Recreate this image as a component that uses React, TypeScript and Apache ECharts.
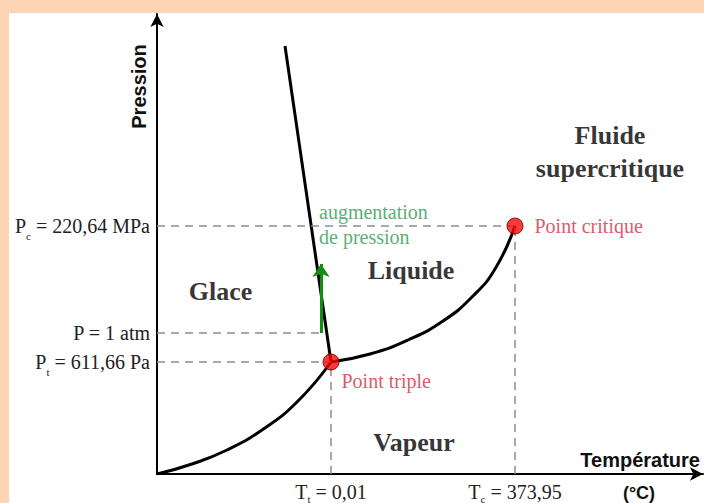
import React, { useEffect, useRef } from 'react';
import * as echarts from 'echarts';

const SERIF = '"Liberation Serif", "Times New Roman", serif';
const SANS = '"Liberation Sans", Arial, sans-serif';

// Schematic phase diagram of water (arbitrary units, origin at the axes' corner)
const sublimationCurve = [[0, 0], [35, 10], [70, 24], [105, 44], [140, 72], [174, 112]];
const vaporisationCurve = [[174, 112], [213, 120], [251, 134], [286, 153], [315, 177], [338, 205], [358, 248]];
const fusionLine = [[174, 112], [128, 428]];

const triplePoint = [174, 112];
const criticalPoint = [358, 248];
const specialPointNames = ['Point triple', 'Point critique'];

// Pressure levels
const pressureValues = [248, 141, 112];
const pressureLabelMain = ['P', 'P = 1 atm', 'P'];
const pressureLabelSub = ['c', '', 't'];
const pressureLabelRest = [' = 220,64 MPa', '', ' = 611,66 Pa'];
const pressureLineEnds = [358, 164, 174];

// Temperature levels
const temperatureValues = [174, 358];
const temperatureLabelSub = ['t', 'c'];
const temperatureLabelRest = [' = 0,01', ' = 373,95'];
const temperatureLineEnds = [112, 248];

// Pressure-increase arrow
const arrowX = 164;
const arrowFrom = 141;
const arrowTo = 210;
const arrowText = 'augmentation\nde pression';
const arrowTextAt = [162, 249.5];

// Phase regions
const regionNames = ['Glace', 'Liquide', 'Vapeur', 'Fluide\nsupercritique'];
const regionPositions = [[63.5, 183], [254, 204], [257, 32], [453, 322.5]];

const xTitle = 'Température';
const xUnit = '(°C)';
const yTitle = 'Pression';

const richP = {
  a: { fontFamily: SERIF, fontSize: 20, color: '#222', lineHeight: 30, verticalAlign: 'middle' },
  s: { fontFamily: SERIF, fontSize: 11, color: '#222', lineHeight: 11, verticalAlign: 'bottom' },
};
const richT = {
  a: { fontFamily: SERIF, fontSize: 20, color: '#222', lineHeight: 24, verticalAlign: 'middle' },
  s: { fontFamily: SERIF, fontSize: 11, color: '#222', lineHeight: 11, verticalAlign: 'bottom' },
};

function richLabel(main: string, sub: string, rest: string) {
  let t = `{a|${main}}`;
  if (sub) t += `{s|${sub}}`;
  if (rest) t += `{a|${rest}}`;
  return t;
}

const curveStyle = { color: '#000', width: 3 };

function buildOption(): any {
  const hLines = pressureValues.map((p, i) => [
    {
      coord: [0, p],
      label: { position: 'start', distance: 7, formatter: richLabel(pressureLabelMain[i], pressureLabelSub[i], pressureLabelRest[i]), rich: richP },
    },
    { coord: [pressureLineEnds[i], p] },
  ]);
  const vLines = temperatureValues.map((t, i) => [
    {
      coord: [t, 0],
      label: { position: 'start', distance: 6, formatter: richLabel('T', temperatureLabelSub[i], temperatureLabelRest[i]), rich: richT },
    },
    { coord: [t, temperatureLineEnds[i]] },
  ]);

  return {
    animation: false,
    backgroundColor: 'transparent',
    grid: { left: 157, top: 14, right: 1, bottom: 29, containLabel: false },
    xAxis: {
      type: 'value', min: 0, max: 546,
      axisLine: { show: true, onZero: false, lineStyle: { color: '#000', width: 2 }, symbol: ['none', 'arrow'], symbolSize: [10, 13] },
      axisTick: { show: false }, axisLabel: { show: false }, splitLine: { show: false },
    },
    yAxis: {
      type: 'value', min: 0, max: 460,
      axisLine: { show: true, onZero: false, lineStyle: { color: '#000', width: 2 }, symbol: ['none', 'arrow'], symbolSize: [10, 13] },
      axisTick: { show: false }, axisLabel: { show: false }, splitLine: { show: false },
    },
    graphic: [
      { type: 'text', x: 700, y: 460, style: { text: xTitle, font: `bold 20px ${SANS}`, fill: '#111', align: 'right', verticalAlign: 'middle' } },
      { type: 'text', x: 639, y: 493, style: { text: xUnit, font: `bold 18px ${SANS}`, fill: '#111', align: 'center', verticalAlign: 'middle' } },
      { type: 'text', x: 139, y: 86.5, rotation: Math.PI / 2, style: { text: yTitle, font: `bold 20px ${SANS}`, fill: '#111', align: 'center', verticalAlign: 'middle' } },
    ],
    series: [
      {
        type: 'line', data: [], silent: true, z: 1,
        markLine: {
          silent: true, symbol: ['none', 'none'], animation: false,
          lineStyle: { type: [8, 6], color: '#8f8f8f', width: 1.5 },
          label: { show: true },
          emphasis: { disabled: true },
          data: [...hLines, ...vLines],
        },
      },
      { type: 'line', name: 'sublimation', data: sublimationCurve, smooth: 0.5, symbol: 'none', lineStyle: curveStyle, silent: true, z: 3 },
      { type: 'line', name: 'vaporisation', data: vaporisationCurve, smooth: 0.5, symbol: 'none', lineStyle: curveStyle, silent: true, z: 3 },
      { type: 'line', name: 'fusion', data: fusionLine, symbol: 'none', lineStyle: curveStyle, silent: true, z: 3 },
      {
        type: 'line', data: [], silent: true, z: 2,
        markLine: {
          silent: true, symbol: ['none', 'arrow'], symbolSize: 13,
          lineStyle: { type: 'solid', color: '#138d13', width: 3 },
          itemStyle: { color: '#138d13' },
          label: { show: false },
          data: [[{ coord: [arrowX, arrowFrom] }, { coord: [arrowX, arrowTo] }]],
        },
      },
      {
        type: 'scatter', data: [arrowTextAt], symbolSize: 0, silent: true, z: 4,
        label: {
          show: true, position: 'inside', formatter: arrowText, align: 'left', verticalAlign: 'middle',
          fontFamily: SERIF, fontSize: 20, lineHeight: 25, color: '#2a9a4c',
        },
      },
      {
        type: 'scatter', symbolSize: 0, silent: true, z: 4,
        data: regionNames.map((n, i) => ({ name: n, value: regionPositions[i] })),
        label: {
          show: true, position: 'inside', formatter: '{b}', align: 'center', verticalAlign: 'middle',
          fontFamily: SERIF, fontWeight: 'bold', fontSize: 26, lineHeight: 33, color: '#000',
        },
      },
      {
        type: 'scatter', symbolSize: 16, silent: true, z: 6,
        itemStyle: { color: '#f50a0a', borderColor: '#6e0000', borderWidth: 1 },
        data: [
          { name: specialPointNames[0], value: triplePoint, label: { position: 'right', distance: 2, offset: [0, 19] } },
          { name: specialPointNames[1], value: criticalPoint, label: { position: 'right', distance: 11 } },
        ],
        label: { show: true, formatter: '{b}', fontFamily: SERIF, fontSize: 20, color: '#d82a40' },
      },
    ],
  };
}

export default function App() {
  const ref = useRef<HTMLDivElement>(null);
  useEffect(() => {
    const chart = echarts.init(ref.current!, null, { renderer: 'svg' });
    chart.setOption(buildOption());
    return () => chart.dispose();
  }, []);
  return (
    <div style={{ position: 'fixed', left: 0, top: 0, width: 704, height: 503, background: '#FDD5B4', overflow: 'hidden' }}>
      <div style={{ position: 'absolute', left: 9, top: 13, right: 0, bottom: 0, background: '#ffffff' }} />
      <div ref={ref} style={{ position: 'absolute', left: 0, top: 0, width: 704, height: 503 }} />
    </div>
  );
}
